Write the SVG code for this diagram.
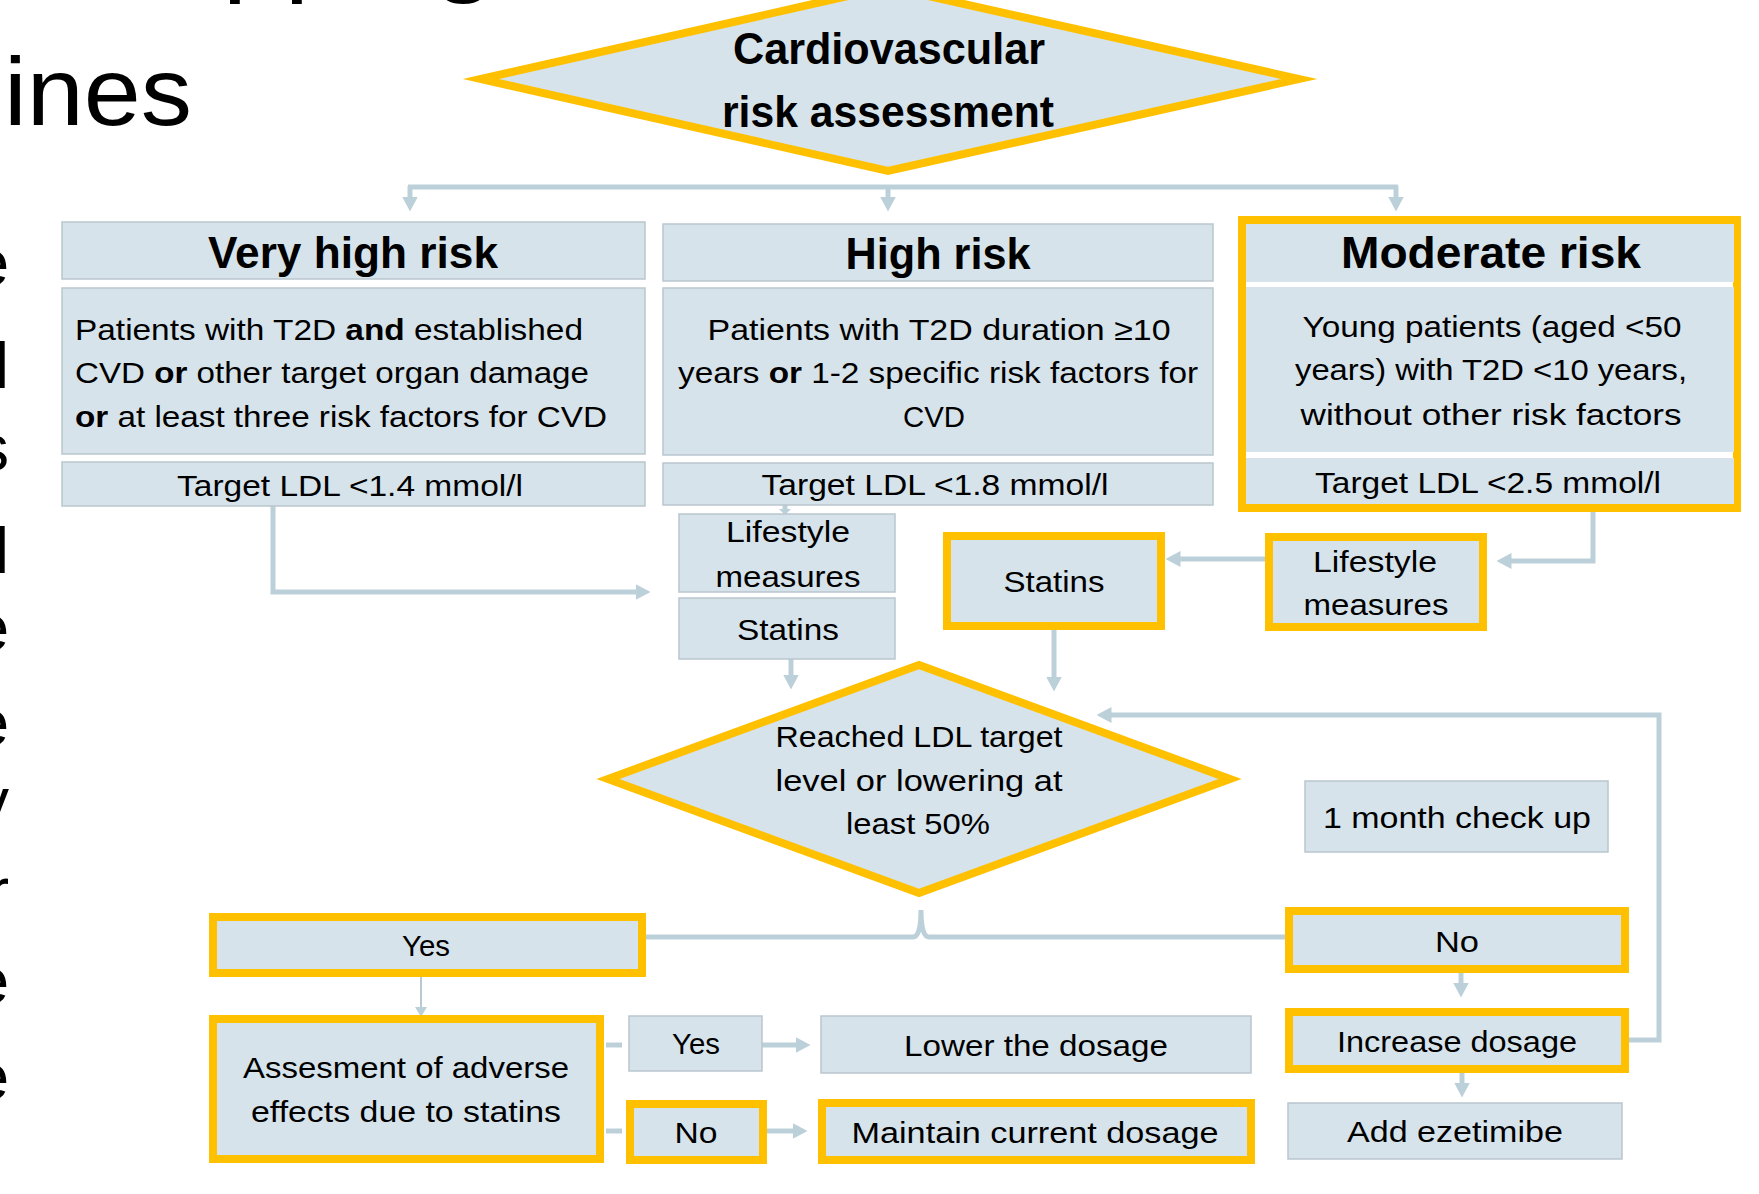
<svg xmlns="http://www.w3.org/2000/svg" width="1759" height="1194" viewBox="0 0 1759 1194">
<defs>
<style>
.box{fill:#D6E3EA;stroke:#B9C6CE;stroke-width:1.5}
.ybox{fill:#D6E3EA;stroke:#FFC000;stroke-width:8}
.dia{fill:#D6E3EA;stroke:#FFC000;stroke-width:8;stroke-miterlimit:10;stroke-linejoin:miter}
.conn{fill:none;stroke:#BCD0DA;stroke-width:5}
.thin{fill:none;stroke:#A9BDC8;stroke-width:1.6}
.t{font-family:"Liberation Sans",Arial,sans-serif;font-size:30px;fill:#000}
.c{text-anchor:middle}
.h{font-size:44px;font-weight:bold}
.big{font-size:96px}
.edge{font-size:64px;text-anchor:end}
</style>
<marker id="arr" viewBox="0 0 15 16" markerWidth="15" markerHeight="16" markerUnits="userSpaceOnUse" refX="0.5" refY="8" orient="auto">
<path d="M0,0 L15,8 L0,16 z" fill="#BCD0DA"/>
</marker>
</defs>
<rect width="1759" height="1194" fill="#ffffff"/>

<g id="slide-text" class="t">
<text class="big" x="4" y="125" textLength="188" lengthAdjust="spacingAndGlyphs">ines</text>
<text class="big" x="222.6" y="-16" textLength="272.6" lengthAdjust="spacingAndGlyphs">pping</text>
<text class="edge" x="9" y="285">e</text>
<text class="edge" x="9" y="388">l</text>
<text class="edge" x="9" y="470">s</text>
<text class="edge" x="9" y="573">l</text>
<text class="edge" x="9" y="650">e</text>
<text class="edge" x="9" y="745">e</text>
<text class="edge" x="9" y="823">y</text>
<text class="edge" x="9" y="913">r</text>
<text class="edge" x="9" y="1003">e</text>
<text class="edge" x="9" y="1099">e</text>
</g>

<g id="connectors">
<path class="conn" d="M408,187 H1398"/>
<path class="conn" d="M410,186 V197" marker-end="url(#arr)"/>
<path class="conn" d="M888,186 V197" marker-end="url(#arr)"/>
<path class="conn" d="M1396,186 V197" marker-end="url(#arr)"/>
<path class="conn" d="M273,506 V592 H636" marker-end="url(#arr)"/>
<path class="conn" d="M785,505 V510" stroke-width="4"/>
<polygon points="779,509 791,509 785,515" fill="#BCD0DA"/>
<path class="conn" d="M791,659 V675" marker-end="url(#arr)"/>
<path class="conn" d="M1593,512 V561 H1511" marker-end="url(#arr)"/>
<path class="conn" d="M1265,559 H1180" marker-end="url(#arr)"/>
<path class="conn" d="M1054,630 V677" marker-end="url(#arr)"/>
<path class="conn" d="M1629,1040 H1659 V715 H1111" marker-end="url(#arr)"/>
<path class="conn" d="M646,937 H913 Q921,937 921,910 Q921,937 929,937 H1285"/>
<path class="thin" d="M421,977 V1008"/>
<polygon points="415,1007 427,1007 421,1017" fill="#BCD0DA"/>
<path class="conn" d="M606,1045 H622"/>
<path class="conn" d="M606,1131 H622"/>
<path class="conn" d="M762,1045 H796" marker-end="url(#arr)"/>
<path class="conn" d="M767,1131 H793" marker-end="url(#arr)"/>
<path class="conn" d="M1461,973 V983" marker-end="url(#arr)"/>
<path class="conn" d="M1462,1073 V1083" marker-end="url(#arr)"/>
</g>

<g id="cardiovascular-risk-assessment">
<polygon class="dia" points="481,79 888,-13 1299,79 888,171"/>
<text class="t c h" x="889" y="64" font-size="43" textLength="312" lengthAdjust="spacingAndGlyphs">Cardiovascular</text>
<text class="t c h" x="888" y="127" font-size="43" textLength="332" lengthAdjust="spacingAndGlyphs">risk assessment</text>
</g>

<g id="very-high-risk">
<rect class="box" x="62" y="222" width="583" height="57"/>
<text class="t c h" x="353" y="268" textLength="290" lengthAdjust="spacingAndGlyphs">Very high risk</text>
<rect class="box" x="62" y="288" width="583" height="166"/>
<text class="t" x="75" y="340" textLength="508" lengthAdjust="spacingAndGlyphs">Patients with T2D <tspan font-weight="bold">and</tspan> established</text>
<text class="t" x="75" y="383" textLength="514" lengthAdjust="spacingAndGlyphs">CVD <tspan font-weight="bold">or</tspan> other target organ damage</text>
<text class="t" x="75" y="427" textLength="532" lengthAdjust="spacingAndGlyphs"><tspan font-weight="bold">or</tspan> at least three risk factors for CVD</text>
<rect class="box" x="62" y="462" width="583" height="44"/>
<text class="t c" x="350" y="496" textLength="346" lengthAdjust="spacingAndGlyphs">Target LDL &lt;1.4 mmol/l</text>
</g>

<g id="high-risk">
<rect class="box" x="663" y="224" width="550" height="57"/>
<text class="t c h" x="938" y="269" textLength="185" lengthAdjust="spacingAndGlyphs">High risk</text>
<rect class="box" x="663" y="288" width="550" height="167"/>
<text class="t c" x="939" y="340" textLength="463" lengthAdjust="spacingAndGlyphs">Patients with T2D duration ≥10</text>
<text class="t c" x="938" y="383" textLength="520" lengthAdjust="spacingAndGlyphs">years <tspan font-weight="bold">or</tspan> 1-2 specific risk factors for</text>
<text class="t c" x="934" y="427" textLength="62" lengthAdjust="spacingAndGlyphs">CVD</text>
<rect class="box" x="663" y="463" width="550" height="42"/>
<text class="t c" x="935" y="495" textLength="347" lengthAdjust="spacingAndGlyphs">Target LDL &lt;1.8 mmol/l</text>
</g>

<g id="moderate-risk">
<rect x="1242" y="220" width="495" height="288" fill="#ffffff" stroke="#FFC000" stroke-width="8"/>
<rect x="1246" y="224" width="488" height="58" fill="#D6E3EA"/>
<text class="t c h" x="1491" y="268" textLength="300" lengthAdjust="spacingAndGlyphs">Moderate risk</text>
<rect x="1246" y="287" width="488" height="165" fill="#D6E3EA"/>
<text class="t c" x="1492" y="337" textLength="379" lengthAdjust="spacingAndGlyphs">Young patients (aged &lt;50</text>
<text class="t c" x="1491" y="380" textLength="392" lengthAdjust="spacingAndGlyphs">years) with T2D &lt;10 years,</text>
<text class="t c" x="1491" y="425" textLength="381" lengthAdjust="spacingAndGlyphs">without other risk factors</text>
<rect x="1246" y="458" width="488" height="46" fill="#D6E3EA"/>
<text class="t c" x="1488" y="493" textLength="346" lengthAdjust="spacingAndGlyphs">Target LDL &lt;2.5 mmol/l</text>
</g>

<g id="lifestyle-measures-high">
<rect class="box" x="679" y="514" width="216" height="78"/>
<text class="t c" x="788" y="542" textLength="124" lengthAdjust="spacingAndGlyphs">Lifestyle</text>
<text class="t c" x="788" y="587" textLength="145" lengthAdjust="spacingAndGlyphs">measures</text>
</g>

<g id="statins-high">
<rect class="box" x="679" y="598" width="216" height="61"/>
<text class="t c" x="788" y="640" textLength="102" lengthAdjust="spacingAndGlyphs">Statins</text>
</g>

<g id="lifestyle-measures-moderate">
<rect class="ybox" x="1269" y="537" width="214" height="90"/>
<text class="t c" x="1375" y="572" textLength="124" lengthAdjust="spacingAndGlyphs">Lifestyle</text>
<text class="t c" x="1376" y="615" textLength="145" lengthAdjust="spacingAndGlyphs">measures</text>
</g>

<g id="statins-moderate">
<rect class="ybox" x="947" y="536" width="214" height="90"/>
<text class="t c" x="1054" y="592" textLength="101" lengthAdjust="spacingAndGlyphs">Statins</text>
</g>

<g id="reached-ldl-target">
<polygon class="dia" points="608,779 919,665 1230,779 919,893"/>
<text class="t c" x="919" y="747" textLength="287" lengthAdjust="spacingAndGlyphs">Reached LDL target</text>
<text class="t c" x="919" y="791" textLength="287" lengthAdjust="spacingAndGlyphs">level or lowering at</text>
<text class="t c" x="918" y="834" textLength="144" lengthAdjust="spacingAndGlyphs">least 50%</text>
</g>

<g id="one-month-check-up">
<rect class="box" x="1305" y="781" width="303" height="71"/>
<text class="t c" x="1457" y="828" textLength="268" lengthAdjust="spacingAndGlyphs">1 month check up</text>
</g>

<g id="yes-main">
<rect class="ybox" x="213" y="917" width="429" height="56"/>
<text class="t c" x="426" y="956" textLength="48" lengthAdjust="spacingAndGlyphs">Yes</text>
</g>

<g id="no-main">
<rect class="ybox" x="1289" y="911" width="336" height="58"/>
<text class="t c" x="1457" y="952" textLength="44" lengthAdjust="spacingAndGlyphs">No</text>
</g>

<g id="assessment-adverse-effects">
<rect class="ybox" x="213" y="1019" width="387" height="140"/>
<text class="t c" x="406" y="1078" textLength="326" lengthAdjust="spacingAndGlyphs">Assesment of adverse</text>
<text class="t c" x="406" y="1122" textLength="310" lengthAdjust="spacingAndGlyphs">effects due to statins</text>
</g>

<g id="yes-adverse">
<rect class="box" x="629" y="1016" width="133" height="55"/>
<text class="t c" x="696" y="1054" textLength="48" lengthAdjust="spacingAndGlyphs">Yes</text>
</g>

<g id="no-adverse">
<rect class="ybox" x="630" y="1104" width="133" height="56"/>
<text class="t c" x="696" y="1143" textLength="43" lengthAdjust="spacingAndGlyphs">No</text>
</g>

<g id="lower-the-dosage">
<rect class="box" x="821" y="1016" width="430" height="57"/>
<text class="t c" x="1036" y="1056" textLength="264" lengthAdjust="spacingAndGlyphs">Lower the dosage</text>
</g>

<g id="maintain-current-dosage">
<rect class="ybox" x="822" y="1103" width="429" height="57"/>
<text class="t c" x="1035" y="1143" textLength="367" lengthAdjust="spacingAndGlyphs">Maintain current dosage</text>
</g>

<g id="increase-dosage">
<rect class="ybox" x="1289" y="1012" width="336" height="57"/>
<text class="t c" x="1457" y="1052" textLength="240" lengthAdjust="spacingAndGlyphs">Increase dosage</text>
</g>

<g id="add-ezetimibe">
<rect class="box" x="1288" y="1103" width="334" height="56"/>
<text class="t c" x="1455" y="1142" textLength="216" lengthAdjust="spacingAndGlyphs">Add ezetimibe</text>
</g>
</svg>
